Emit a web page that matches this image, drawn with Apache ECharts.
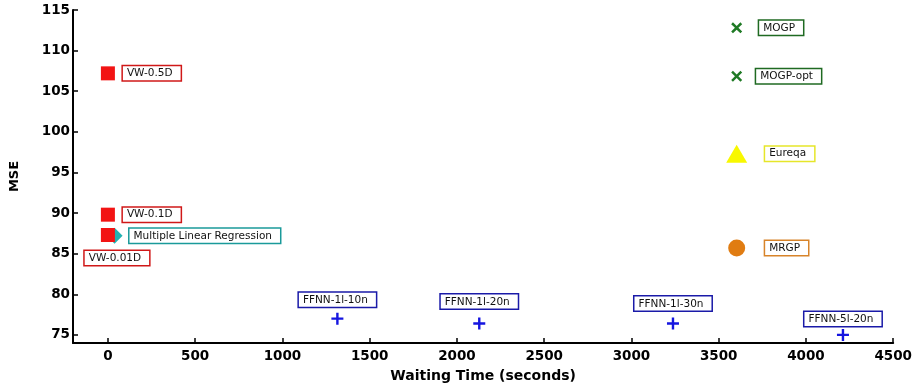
<!DOCTYPE html>
<html><head><meta charset="utf-8">
<script src="https://cdn.jsdelivr.net/npm/echarts@6/dist/echarts.min.js"></script>
<style>html,body{margin:0;padding:0;background:#fff}#c{width:915px;height:389px}</style>
</head><body><div id="c"></div>
<script>
// Data
const vwNames = ['VW-0.5D', 'VW-0.1D', 'VW-0.01D'];
const vwX = [0, 0, 0];
const vwY = [107.2, 89.8, 87.3];
const mlrName = ['Multiple Linear Regression'];
const mlrX = [38];
const mlrY = [87.2];
const ffnnNames = ['FFNN-1l-10n', 'FFNN-1l-20n', 'FFNN-1l-30n', 'FFNN-5l-20n'];
const ffnnX = [1315, 2128, 3238, 4212];
const ffnnY = [77.0, 76.4, 76.4, 75.0];
const mogpNames = ['MOGP', 'MOGP-opt'];
const mogpX = [3603, 3603];
const mogpY = [112.8, 106.85];
const eureqaName = ['Eureqa'];
const eureqaX = [3603];
const eureqaY = [97.3];
const mrgpName = ['MRGP'];
const mrgpX = [3603];
const mrgpY = [85.7];
const xTicks = [0, 500, 1000, 1500, 2000, 2500, 3000, 3500, 4000, 4500];
const yTicks = [75, 80, 85, 90, 95, 100, 105, 110, 115];

function pts(names, xs, ys) {
  return names.map((n, i) => ({ name: n, value: [xs[i], ys[i]] }));
}
function lbl(color, extra) {
  return Object.assign({
    show: true,
    formatter: '{b}',
    fontFamily: 'DejaVu Sans',
    fontSize: 10.5,
    color: '#111',
    backgroundColor: '#fff',
    borderColor: color,
    borderWidth: 1.5,
    padding: [2, 8, 1, 4]
  }, extra);
}
const PLUS = 'path://M4,0h2v4h4v2h-4v4h-2v-4h-4v-2h4z';
const XMARK = 'path://M0,1.6L1.6,0L5,3.4L8.4,0L10,1.6L6.6,5L10,8.4L8.4,10L5,6.6L1.6,10L0,8.4L3.4,5Z';

const vwData = pts(vwNames, vwX, vwY);
vwData[2].label = { position: 'bottom', distance: 9, offset: [9, 0] };
const ffData = pts(ffnnNames, ffnnX, ffnnY);
const ffDist = [6, 9, 7, 3];
ffData.forEach((d, i) => { d.label = { distance: ffDist[i] }; });
const mgData = pts(mogpNames, mogpX, mogpY);
mgData[0].label = { distance: 17 };
mgData[1].label = { distance: 14 };

const fmt = v => String(v);
const chart = echarts.init(document.getElementById('c'));
chart.setOption({
  animation: false,
  grid: { left: 71, right: 16, top: 10, bottom: 46, containLabel: false },
  xAxis: {
    type: 'value', min: -200, max: 4500,
    name: 'Waiting Time (seconds)', nameLocation: 'middle', nameGap: 26,
    nameTextStyle: { fontFamily: 'DejaVu Sans', fontWeight: 'bold', fontSize: 14, color: '#000' },
    axisLine: { onZero: false, lineStyle: { color: '#000', width: 2 } },
    axisTick: { show: true, inside: true, length: 5, lineStyle: { color: '#000', width: 1.5 },
      customValues: xTicks },
    axisLabel: { fontFamily: 'DejaVu Sans', fontWeight: 'bold', fontSize: 13.5, color: '#000', margin: 6,
      customValues: xTicks, formatter: fmt },
    splitLine: { show: false }
  },
  yAxis: {
    type: 'value', min: 74, max: 115,
    name: 'MSE', nameLocation: 'middle', nameGap: 52, nameRotate: 90,
    nameTextStyle: { fontFamily: 'DejaVu Sans', fontWeight: 'bold', fontSize: 13, color: '#000' },
    axisLine: { show: true, onZero: false, lineStyle: { color: '#000', width: 2 } },
    axisTick: { show: true, inside: true, length: 5, lineStyle: { color: '#000', width: 1.5 },
      customValues: yTicks },
    axisLabel: { fontFamily: 'DejaVu Sans', fontWeight: 'bold', fontSize: 13.5, color: '#000', margin: 3,
      customValues: yTicks, formatter: fmt },
    splitLine: { show: false }
  },
  series: [
    { type: 'scatter', name: 'MLR', data: pts(mlrName, mlrX, mlrY), symbol: 'diamond', symbolSize: 16,
      itemStyle: { color: '#22b2b2', opacity: 1 }, label: lbl('#1a9a9a', { position: 'right', distance: 7 }) },
    { type: 'scatter', name: 'VW', data: vwData, symbol: 'rect', symbolSize: 14,
      itemStyle: { color: '#f21414', opacity: 1 }, label: lbl('#d01818', { position: 'right', distance: 8 }) },
    { type: 'scatter', name: 'FFNN', data: ffData, symbol: PLUS, symbolSize: 12,
      itemStyle: { color: '#1515e0', opacity: 1 }, label: lbl('#1a1aa8', { position: 'top' }) },
    { type: 'scatter', name: 'MOGP', data: mgData, symbol: XMARK, symbolSize: 11,
      itemStyle: { color: '#1f7a25', opacity: 1 }, label: lbl('#1f6a22', { position: 'right' }) },
    { type: 'scatter', name: 'Eureqa', data: pts(eureqaName, eureqaX, eureqaY), symbol: 'triangle', symbolSize: [21, 18],
      itemStyle: { color: '#f8f800', opacity: 1 }, label: lbl('#e6e62a', { position: 'right', distance: 18 }) },
    { type: 'scatter', name: 'MRGP', data: pts(mrgpName, mrgpX, mrgpY), symbol: 'circle', symbolSize: 17,
      itemStyle: { color: '#e07c12', opacity: 1 }, label: lbl('#d8842a', { position: 'right', distance: 20 }) }
  ]
});
</script></body></html>
